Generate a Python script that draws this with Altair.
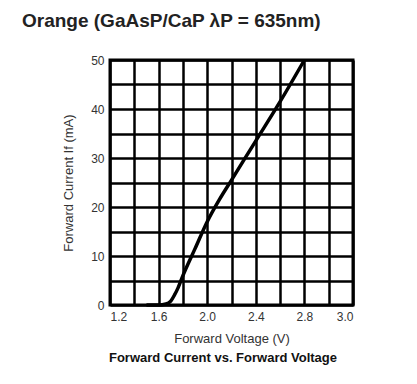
import altair as alt
import pandas as pd

# Data
voltage = [1.50, 1.60, 1.66, 1.70, 1.73, 1.76, 1.80, 1.90, 2.00, 2.10, 2.20, 2.40, 2.60, 2.80]
current = [0.0, 0.0, 0.2, 0.8, 2.0, 3.5, 6.0, 11.5, 17.0, 21.5, 25.5, 33.5, 41.5, 50.0]
x_grid = [1.2, 1.4, 1.6, 1.8, 2.0, 2.2, 2.4, 2.6, 2.8, 3.0, 3.2]
y_grid = [0, 5, 10, 15, 20, 25, 30, 35, 40, 45, 50]

title_text = "Orange (GaAsP/CaP \u03bbP = 635nm)"
x_title = "Forward Voltage (V)"
y_title = "Forward Current If (mA)"
bottom_title = "Forward Current vs. Forward Voltage"

df = pd.DataFrame({"v": voltage, "i": current})

FONT = "Liberation Sans"

x_axis = alt.Axis(
    values=x_grid,
    labelExpr="datum.value > 3.1 ? '3.0' : (round(datum.value*10) % 4 == 0 ? format(datum.value, '.1f') : '')",
    grid=True, gridColor="black", gridWidth=2.5, gridOpacity=1,
    ticks=False, domain=False,
    labelFont=FONT, labelFontSize=12, labelColor="#333", labelPadding=6,
    title=x_title, titleFont=FONT, titleFontSize=13, titleFontWeight="normal",
    titleColor="#333", titlePadding=10,
)
y_axis = alt.Axis(
    values=y_grid,
    labelExpr="datum.value % 10 == 0 ? datum.value : ''",
    grid=True, gridColor="black", gridWidth=2.5, gridOpacity=1,
    ticks=False, domain=False,
    labelFont=FONT, labelFontSize=12, labelColor="#333", labelPadding=6,
    title=y_title, titleFont=FONT, titleFontSize=13, titleFontWeight="normal",
    titleColor="#333", titlePadding=15,
)

line = alt.Chart(df).mark_line(color="black", strokeWidth=3.5, interpolate="monotone").encode(
    x=alt.X("v:Q", scale=alt.Scale(domain=[1.2, 3.2], nice=False), axis=x_axis),
    y=alt.Y("i:Q", scale=alt.Scale(domain=[0, 50], nice=False), axis=y_axis),
)

top_title = alt.Chart(pd.DataFrame({"t": [title_text]})).mark_text(
    font=FONT, fontSize=19, fontWeight="bold", color="#222", align="left", baseline="alphabetic"
).encode(text="t:N", x=alt.value(-88), y=alt.value(-33))

bottom = alt.Chart(pd.DataFrame({"t": [bottom_title]})).mark_text(
    font=FONT, fontSize=13, fontWeight="bold", color="#111", align="center", baseline="alphabetic"
).encode(text="t:N", x=alt.value(113), y=alt.value(302))

chart = alt.layer(line, top_title, bottom).properties(
    width=243, height=245,
    autosize=alt.AutoSizeParams(type="none"),
    padding={"left": 102, "top": 52, "right": 50, "bottom": 70},
).configure_view(stroke="black", strokeWidth=3)

chart.save("out.html", embed_options={"renderer": "svg", "actions": False})
